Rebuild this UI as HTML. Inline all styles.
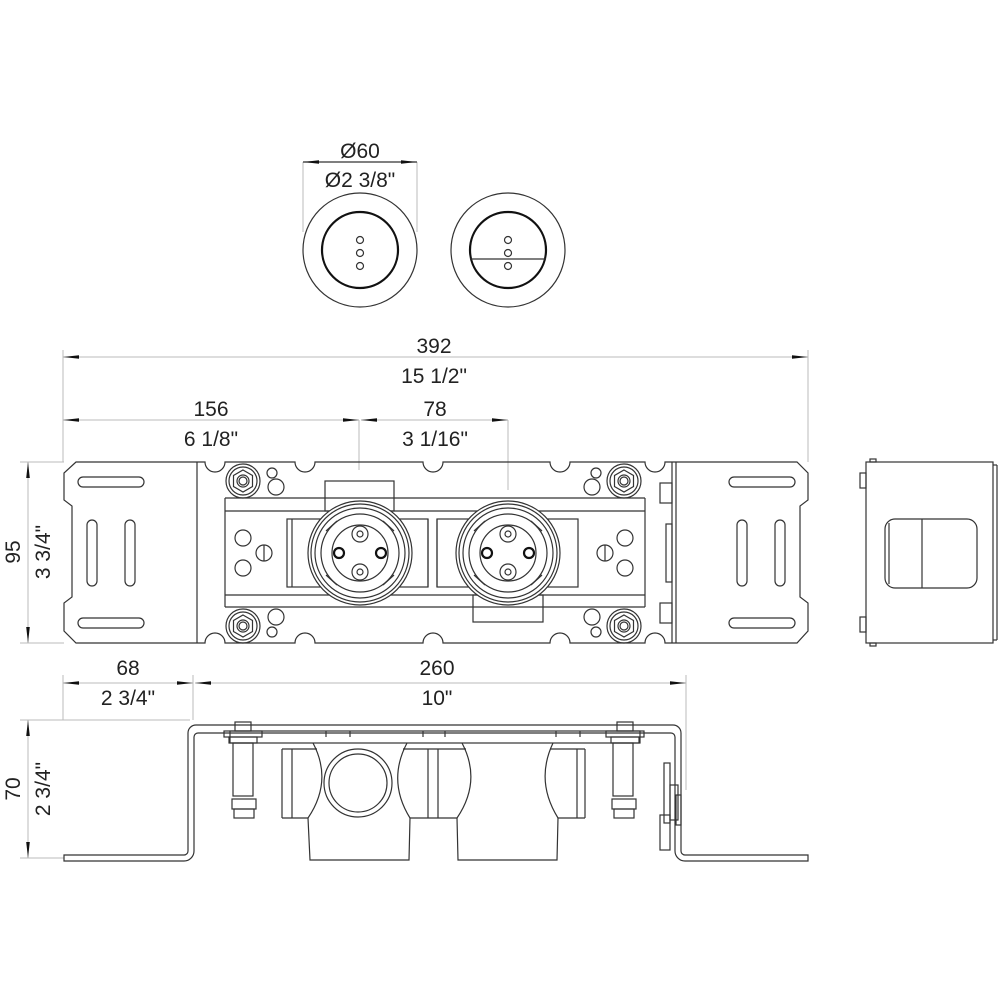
<!DOCTYPE html>
<html><head><style>
html,body{margin:0;padding:0;background:#fff}
svg{display:block}
text{font-family:"Liberation Sans",sans-serif;font-size:21px;fill:#222;text-anchor:middle}
.l{fill:none;stroke:#333;stroke-width:1.2}
.t{fill:none;stroke:#111;stroke-width:2.2}
.d{fill:none;stroke:#bbb;stroke-width:1}
.a{fill:#111;stroke:none}
</style></head><body>
<svg width="1000" height="1000" viewBox="0 0 1000 1000">
<defs>
<marker id="ar" markerWidth="16" markerHeight="6" refX="16" refY="3" orient="auto" markerUnits="userSpaceOnUse"><path d="M0,1.2 L16,3 L0,4.8z" fill="#111"/></marker>
<marker id="al" markerWidth="16" markerHeight="6" refX="0" refY="3" orient="auto" markerUnits="userSpaceOnUse"><path d="M16,1.2 L0,3 L16,4.8z" fill="#111"/></marker>
<g id="bolt"><circle r="17" class="l"/><circle r="14" class="l"/><polygon points="0,-11 9.5,-5.5 9.5,5.5 0,11 -9.5,5.5 -9.5,-5.5" class="l"/><circle r="6" class="l"/><circle r="4" class="l"/></g>
<g id="fit"><circle r="52" class="l"/><circle r="49" class="l"/><circle r="45" class="l"/><circle r="39" class="l"/><circle r="28" class="l"/>
<line x1="-34" y1="-22" x2="-23" y2="-32" class="l"/><line x1="34" y1="-22" x2="23" y2="-32" class="l"/><line x1="-34" y1="22" x2="-23" y2="32" class="l"/><line x1="34" y1="22" x2="23" y2="32" class="l"/>
<circle cy="-19" r="8" class="l"/><circle cy="-19" r="3" class="l"/><circle cy="19" r="8" class="l"/><circle cy="19" r="3" class="l"/>
<circle cx="-21" r="5" class="t" stroke-width="1.8"/><circle cx="21" r="5" class="t" stroke-width="1.8"/></g>
</defs>

<!-- top circles -->
<line x1="303" y1="162" x2="303" y2="232" class="d"/><line x1="417" y1="162" x2="417" y2="232" class="d"/>
<line x1="303" y1="162" x2="417" y2="162" class="l" marker-start="url(#al)" marker-end="url(#ar)"/>
<text x="360" y="158">Ø60</text><text x="360" y="187">Ø2 3/8"</text>
<circle cx="360" cy="250" r="57" class="l"/><circle cx="360" cy="250" r="38" class="t"/>
<circle cx="360" cy="240" r="3.5" class="l"/><circle cx="360" cy="253" r="3.5" class="l"/><circle cx="360" cy="266" r="3.5" class="l"/>
<circle cx="508" cy="250" r="57" class="l"/><circle cx="508" cy="250" r="38" class="t"/>
<line x1="470" y1="259" x2="546" y2="259" class="l"/>
<circle cx="508" cy="240" r="3.5" class="l"/><circle cx="508" cy="253" r="3.5" class="l"/><circle cx="508" cy="266" r="3.5" class="l"/>

<!-- dims top -->
<line x1="63" y1="350" x2="63" y2="462" class="d"/><line x1="808" y1="350" x2="808" y2="462" class="d"/>
<line x1="359" y1="420" x2="359" y2="470" class="d"/><line x1="508" y1="420" x2="508" y2="490" class="d"/>
<line x1="63" y1="357" x2="808" y2="357" class="d" marker-start="url(#al)" marker-end="url(#ar)"/>
<text x="434" y="353">392</text><text x="434" y="383">15 1/2"</text>
<line x1="63" y1="420" x2="359" y2="420" class="d" marker-start="url(#al)" marker-end="url(#ar)"/>
<line x1="361" y1="420" x2="508" y2="420" class="d" marker-start="url(#al)" marker-end="url(#ar)"/>
<text x="211" y="416">156</text><text x="211" y="446">6 1/8"</text>
<text x="435" y="416">78</text><text x="435" y="446">3 1/16"</text>

<!-- 95 dim -->
<line x1="20" y1="462" x2="64" y2="462" class="d"/><line x1="20" y1="643" x2="64" y2="643" class="d"/>
<line x1="28" y1="462" x2="28" y2="643" class="d" marker-start="url(#al)" marker-end="url(#ar)"/>
<text transform="translate(20,552) rotate(-90)">95</text><text transform="translate(50,552) rotate(-90)">3 3/4"</text>

<!-- plate outline -->
<path class="l" d="M76,462 H197 H205 a10,10 0 0 0 20,0 H295 a10,10 0 0 0 20,0 H423 a10,10 0 0 0 20,0 H550 a10,10 0 0 0 20,0 H645 a10,10 0 0 0 20,0 H797 L808,473 V500 L800,506 V597 L808,603 V631 L797,643 H665 a10,10 0 0 0 -20,0 H570 a10,10 0 0 0 -20,0 H443 a10,10 0 0 0 -20,0 H315 a10,10 0 0 0 -20,0 H225 a10,10 0 0 0 -20,0 H76 L64,631 V603 L72,597 V506 L64,500 V473 Z"/>
<line x1="197" y1="462" x2="197" y2="643" class="l"/>
<line x1="672" y1="462" x2="672" y2="643" class="l"/><line x1="676" y1="462" x2="676" y2="643" class="l"/>
<!-- wing slots -->
<rect x="78" y="477" width="66" height="10" rx="5" class="l"/><rect x="78" y="618" width="66" height="10" rx="5" class="l"/>
<rect x="87" y="520" width="10" height="66" rx="5" class="l"/><rect x="125" y="520" width="10" height="66" rx="5" class="l"/>
<rect x="729" y="477" width="66" height="10" rx="5" class="l"/><rect x="729" y="618" width="66" height="10" rx="5" class="l"/>
<rect x="737" y="520" width="10" height="66" rx="5" class="l"/><rect x="775" y="520" width="10" height="66" rx="5" class="l"/>
<rect x="660" y="483" width="12" height="20" class="l"/><rect x="660" y="603" width="12" height="20" class="l"/><rect x="666" y="524" width="6" height="58" class="l"/>
<!-- rail -->
<line x1="225" y1="498" x2="645" y2="498" class="l"/><line x1="225" y1="511" x2="645" y2="511" class="l"/>
<line x1="225" y1="595" x2="645" y2="595" class="l"/><line x1="225" y1="607" x2="645" y2="607" class="l"/>
<line x1="225" y1="498" x2="225" y2="607" class="l"/><line x1="645" y1="498" x2="645" y2="607" class="l"/>
<rect x="287" y="519" width="141" height="68" class="l"/><line x1="292" y1="519" x2="292" y2="587" class="l"/>
<line x1="428" y1="519" x2="428" y2="587" class="l"/><line x1="437" y1="519" x2="437" y2="587" class="l"/>
<rect x="437" y="519" width="141" height="68" class="l"/>
<rect x="325" y="481" width="69" height="30" class="l"/>
<rect x="473" y="595" width="70" height="27" class="l"/>
<circle cx="360" cy="553" r="52" fill="#fff" stroke="none"/><circle cx="508" cy="553" r="52" fill="#fff" stroke="none"/>
<use href="#fit" x="360" y="553"/><use href="#fit" x="508" y="553"/>
<!-- small holes -->
<circle cx="243" cy="538" r="8" class="l"/><circle cx="243" cy="568" r="8" class="l"/><circle cx="264" cy="553" r="8" class="l"/><line x1="264" y1="545" x2="264" y2="561" class="l"/>
<circle cx="625" cy="538" r="8" class="l"/><circle cx="625" cy="568" r="8" class="l"/><circle cx="605" cy="553" r="8" class="l"/><line x1="605" y1="545" x2="605" y2="561" class="l"/>
<circle cx="272" cy="473" r="5" class="l"/><circle cx="276" cy="487" r="8" class="l"/>
<circle cx="276" cy="617" r="8" class="l"/><circle cx="272" cy="632" r="5" class="l"/>
<circle cx="596" cy="473" r="5" class="l"/><circle cx="592" cy="487" r="8" class="l"/>
<circle cx="592" cy="617" r="8" class="l"/><circle cx="596" cy="632" r="5" class="l"/>
<use href="#bolt" x="243" y="481"/><use href="#bolt" x="243" y="626"/><use href="#bolt" x="624" y="481"/><use href="#bolt" x="624" y="626"/>

<!-- side view -->
<rect x="866" y="462" width="127" height="181" class="l"/>
<line x1="997" y1="465" x2="997" y2="640" class="l"/><line x1="993" y1="465" x2="997" y2="465" class="l"/><line x1="993" y1="640" x2="997" y2="640" class="l"/>
<rect x="860" y="473" width="6" height="15" class="l"/><rect x="860" y="617" width="6" height="15" class="l"/>
<rect x="870" y="459" width="6" height="3" class="l"/><rect x="870" y="643" width="6" height="3" class="l"/>
<rect x="885" y="519" width="92" height="69" rx="10" class="l"/><line x1="922" y1="519" x2="922" y2="588" class="l"/><line x1="889" y1="523" x2="889" y2="584" class="l"/>

<!-- 68 / 260 dims -->
<line x1="63" y1="675" x2="63" y2="720" class="d"/><line x1="193" y1="675" x2="193" y2="720" class="d"/><line x1="686" y1="675" x2="686" y2="790" class="d"/>
<line x1="63" y1="683" x2="193" y2="683" class="d" marker-start="url(#al)" marker-end="url(#ar)"/>
<line x1="195" y1="683" x2="686" y2="683" class="d" marker-start="url(#al)" marker-end="url(#ar)"/>
<text x="128" y="675">68</text><text x="128" y="705">2 3/4"</text>
<text x="437" y="675">260</text><text x="437" y="705">10"</text>
<!-- 70 dim -->
<line x1="20" y1="720" x2="190" y2="720" class="d"/><line x1="20" y1="858" x2="64" y2="858" class="d"/>
<line x1="28" y1="720" x2="28" y2="858" class="d" marker-start="url(#al)" marker-end="url(#ar)"/>
<text transform="translate(20,789) rotate(-90)">70</text><text transform="translate(50,789) rotate(-90)">2 3/4"</text>

<!-- bottom view bracket -->
<path class="l" d="M64,855 H184 a4,4 0 0 0 4,-4 V733 a8,8 0 0 1 8,-8 H673 a8,8 0 0 1 8,8 V851 a4,4 0 0 0 4,4 H808 V861 H685 a10,10 0 0 1 -10,-10 V737 a4,4 0 0 0 -4,-4 H198 a4,4 0 0 0 -4,4 V851 a10,10 0 0 1 -10,10 H64 Z"/>
<rect x="230" y="731" width="410" height="12" class="l"/>
<line x1="326" y1="731" x2="326" y2="737" class="l"/><line x1="350" y1="731" x2="350" y2="737" class="l"/><line x1="423" y1="731" x2="423" y2="737" class="l"/><line x1="445" y1="731" x2="445" y2="737" class="l"/><line x1="556" y1="731" x2="556" y2="737" class="l"/><line x1="580" y1="731" x2="580" y2="737" class="l"/>
<!-- bolts side -->
<g class="l"><rect x="224" y="731" width="38" height="6"/><rect x="235" y="722" width="16" height="9"/><rect x="229" y="737" width="28" height="6"/><rect x="233" y="743" width="20" height="53"/><rect x="232" y="799" width="24" height="10"/><rect x="234" y="809" width="20" height="9"/></g>
<g class="l"><rect x="606" y="731" width="38" height="6"/><rect x="617" y="722" width="16" height="9"/><rect x="611" y="737" width="28" height="6"/><rect x="613" y="743" width="20" height="53"/><rect x="612" y="799" width="24" height="10"/><rect x="614" y="809" width="20" height="9"/></g>
<!-- fittings side -->
<g class="l">
<line x1="282" y1="749" x2="282" y2="818"/><line x1="292" y1="749" x2="292" y2="818"/>
<line x1="282" y1="749" x2="317" y2="749"/><line x1="282" y1="818" x2="308" y2="818"/>
<path d="M313,743 Q333,781 308,818"/>
<path d="M407,743 Q387,781 410,818"/>
<line x1="403" y1="749" x2="438" y2="749"/><line x1="410" y1="818" x2="438" y2="818"/>
<line x1="428" y1="749" x2="428" y2="818"/><line x1="438" y1="749" x2="438" y2="818"/>
<path d="M308,818 L310,860 H409 L410,818"/>
<line x1="438" y1="749" x2="466" y2="749"/><line x1="438" y1="818" x2="457" y2="818"/>
<path d="M462,743 Q482,781 457,818"/>
<path d="M553,743 Q535,781 558,818"/>
<line x1="550" y1="749" x2="585" y2="749"/><line x1="558" y1="818" x2="585" y2="818"/>
<line x1="577" y1="749" x2="577" y2="818"/><line x1="585" y1="749" x2="585" y2="818"/>
<path d="M457,818 L458,860 H557 L558,818"/>
</g>
<circle cx="358" cy="783" r="34" class="l"/><circle cx="358" cy="783" r="29" class="l"/>
<!-- right bracket hardware -->
<g class="l"><rect x="664" y="763" width="6" height="60"/><rect x="670" y="785" width="8" height="35"/><rect x="676" y="795" width="5" height="30"/><rect x="660" y="815" width="10" height="35"/></g>
</svg>
</body></html>
